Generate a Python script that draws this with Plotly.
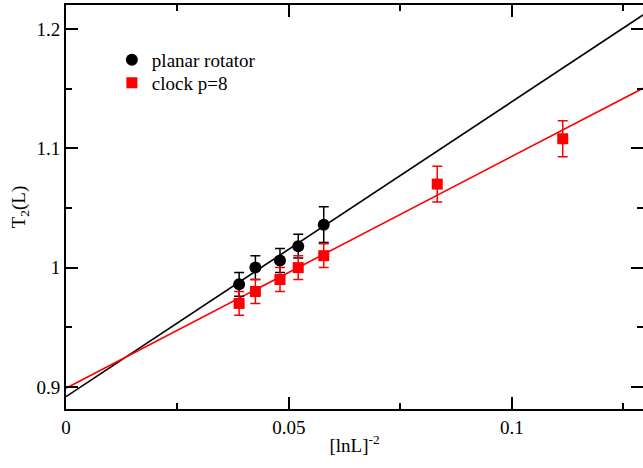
import plotly.graph_objects as go

# data
pr_x = [0.03883, 0.04247, 0.04799, 0.05208, 0.05780]
pr_y = [0.986, 1.000, 1.006, 1.018, 1.036]
pr_err = [0.010, 0.010, 0.010, 0.010, 0.015]

ck_x = [0.03883, 0.04247, 0.04799, 0.05208, 0.05780, 0.08326, 0.11140]
ck_y = [0.970, 0.980, 0.990, 1.000, 1.010, 1.070, 1.108]
ck_err = [0.010, 0.010, 0.010, 0.010, 0.010, 0.015, 0.015]

fit_x = [0.0, 0.1294]
pr_fit_y = [0.8919, 1.2117]
ck_fit_y = [0.8989, 1.1503]

x_ticks = [0, 0.05, 0.1]
x_labels = ["0", "0.05", "0.1"]
y_ticks = [0.9, 1.0, 1.1, 1.2]
y_labels = ["0.9", "1", "1.1", "1.2"]

X_RANGE = [0, 0.1294]
Y_RANGE = [0.8815, 1.2201]
FONT = "Liberation Serif"

fig = go.Figure()
fig.add_trace(go.Scatter(x=fit_x, y=pr_fit_y, mode="lines",
                         line=dict(color="black", width=1.6),
                         showlegend=False, hoverinfo="skip"))
fig.add_trace(go.Scatter(x=fit_x, y=ck_fit_y, mode="lines",
                         line=dict(color="red", width=1.6),
                         showlegend=False, hoverinfo="skip"))
fig.add_trace(go.Scatter(x=pr_x, y=pr_y, mode="markers", name="planar rotator",
                         marker=dict(symbol="circle", size=12, color="black"),
                         error_y=dict(type="data", array=pr_err, color="black",
                                      thickness=1.5, width=5),
                         legend="legend"))
fig.add_trace(go.Scatter(x=ck_x, y=ck_y, mode="markers", name="clock p=8",
                         marker=dict(symbol="square", size=11, color="red"),
                         error_y=dict(type="data", array=ck_err, color="red",
                                      thickness=1.5, width=5),
                         legend="legend2"))
# invisible trace to carry the right-hand tick axis
fig.add_trace(go.Scatter(x=pr_x, y=pr_y, mode="markers", yaxis="y2",
                         marker=dict(opacity=0), showlegend=False, hoverinfo="skip"))

axis_common = dict(
    showline=True, linecolor="black", linewidth=2,
    ticks="inside", ticklen=12, tickwidth=2, tickcolor="black",
    showgrid=False, zeroline=False, automargin=False,
    tickfont=dict(family=FONT, size=19, color="black"),
)

fig.update_layout(
    width=643, height=468,
    margin=dict(l=66, r=0, t=5, b=59, autoexpand=False),
    paper_bgcolor="white", plot_bgcolor="white",
    font=dict(family=FONT, size=19, color="black"),
    xaxis=dict(range=X_RANGE, tickvals=x_ticks, ticktext=x_labels, mirror="ticks",
               minor=dict(dtick=0.025, tick0=0, ticks="inside", ticklen=6,
                          tickwidth=2, tickcolor="black"),
               title=dict(text="[lnL]<sup>-2</sup>", standoff=2,
                          font=dict(family=FONT, size=19, color="black")),
               **axis_common),
    yaxis=dict(range=Y_RANGE, tickvals=y_ticks, ticktext=y_labels, mirror=False,
               minor=dict(dtick=0.05, tick0=0.9, ticks="inside", ticklen=6,
                          tickwidth=2, tickcolor="black"),
               title=dict(text="T<sub>2</sub>(L)", standoff=6,
                          font=dict(family=FONT, size=19, color="black")),
               **axis_common),
    yaxis2=dict(range=Y_RANGE, overlaying="y", side="right", tickvals=y_ticks,
                showticklabels=False, showline=False, showgrid=False, zeroline=False,
                automargin=False,
                ticks="inside", ticklen=12, tickwidth=2, tickcolor="black",
                minor=dict(dtick=0.05, tick0=0.9, ticks="inside", ticklen=6,
                           tickwidth=2, tickcolor="black")),
    legend=dict(x=0.0795, y=0.911, xanchor="left", yanchor="top",
                bgcolor="rgba(0,0,0,0)", font=dict(family=FONT, size=19, color="black")),
    legend2=dict(x=0.0795, y=0.854, xanchor="left", yanchor="top",
                 bgcolor="rgba(0,0,0,0)", font=dict(family=FONT, size=19, color="black")),
)

fig.write_html("out.html", config={"displayModeBar": False},
               post_script="document.body.style.margin='0';document.body.style.padding='0';")
